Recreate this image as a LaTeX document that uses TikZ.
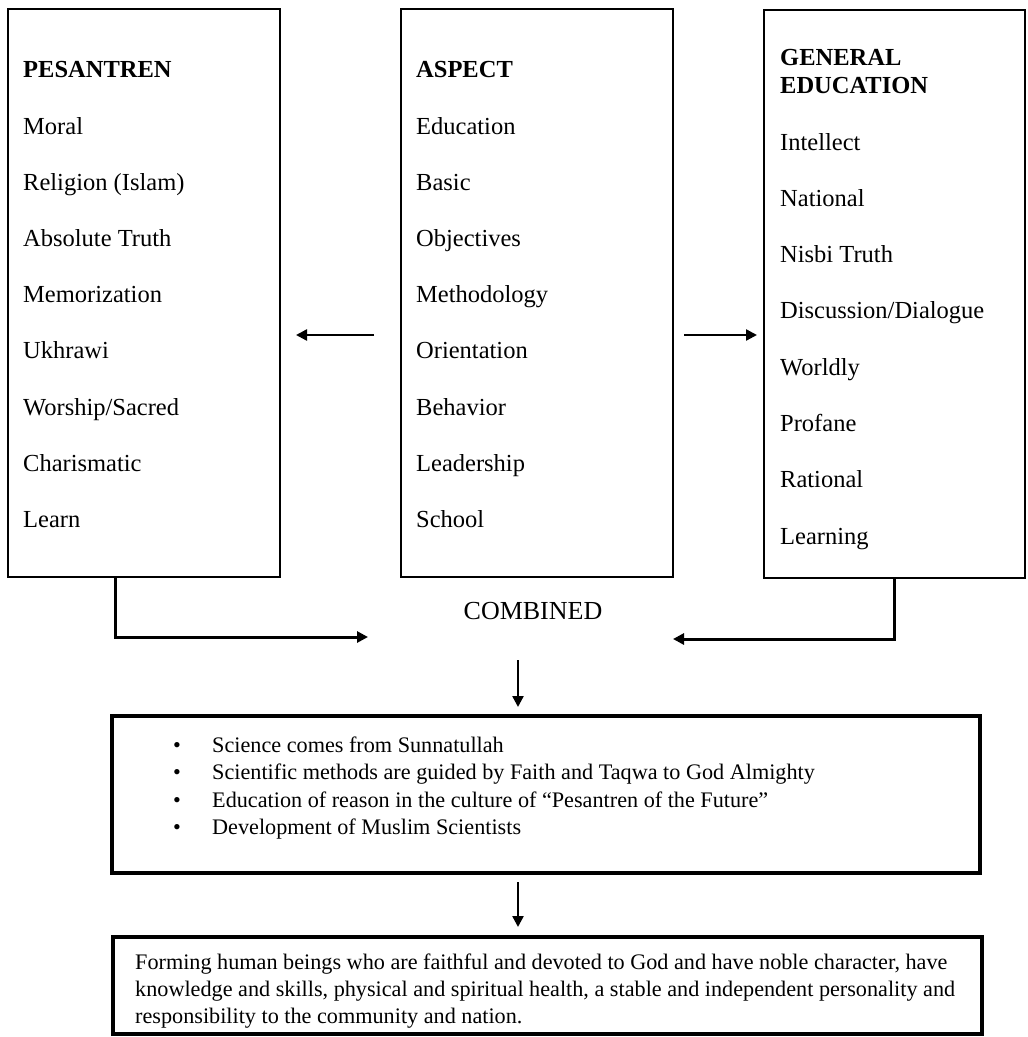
\documentclass[tikz,border=0pt]{standalone}
\usepackage{fontspec}
\setmainfont{Liberation Serif}
\usetikzlibrary{arrows.meta}
\begin{document}
\begin{tikzpicture}[x=1pt,y=-1pt,
  box/.style={draw,line width=1.6pt,inner sep=0pt,outer sep=0pt,anchor=north west},
  thickbox/.style={draw,line width=3.2pt,inner sep=0pt,outer sep=0pt,anchor=north west},
  item/.style={anchor=base west,inner sep=0pt,font=\fontsize{24.5}{29}\selectfont},
  head/.style={anchor=base west,inner sep=0pt,font=\fontsize{24.5}{29}\selectfont\bfseries},
  small/.style={anchor=base west,inner sep=0pt,font=\fontsize{22.2}{27}\selectfont},
  arr/.style={line width=2.4pt,-{Triangle[length=11pt,width=11pt]}},
  conn/.style={line width=3pt,-{Triangle[length=11pt,width=11pt]}}]
\useasboundingbox (0,0) rectangle (1028,1037);
% top boxes
\node[box,minimum width=272,minimum height=568] (pes) at (8,9) {};
\node[box,minimum width=272,minimum height=568] (asp) at (401,9) {};
\node[box,minimum width=261,minimum height=568] (gen) at (764,10) {};
% headers
\node[head] (pesH) at (23,77) {PESANTREN};
\node[head] (aspH) at (416,77) {ASPECT};
\node[head] (genH1) at (780,65) {GENERAL};
\node[head] (genH2) at (780,93) {EDUCATION};
% items
\foreach \t [count=\i] in {Moral,Religion (Islam),Absolute Truth,Memorization,Ukhrawi,Worship/Sacred,Charismatic,Learn}
  \node[item] (p\i) at (23,{134+56.2*(\i-1)}) {\t};
\foreach \t [count=\i] in {Education,Basic,Objectives,Methodology,Orientation,Behavior,Leadership,School}
  \node[item] (a\i) at (416,{134+56.2*(\i-1)}) {\t};
\foreach \t [count=\i] in {Intellect,National,Nisbi Truth,Discussion/Dialogue,Worldly,Profane,Rational,Learning}
  \node[item] (g\i) at (780,{150+56.3*(\i-1)}) {\t};
% side arrows
\coordinate (la1) at (374,335);
\coordinate (la2) at (296,335);
\coordinate (ra1) at (684,335);
\coordinate (ra2) at (757,335);
\draw[arr] (la1) -- (la2);
\draw[arr] (ra1) -- (ra2);
% combined
\node[inner sep=0pt,font=\fontsize{26}{30}\selectfont] (comb) at (533,611) {COMBINED};
\coordinate (cl) at (368,637);
\coordinate (cr) at (673,639);
\draw[conn] (115,0 |- pes.south) |- (cl);
\draw[conn] (894,0 |- gen.south) |- (cr);
% bottom boxes
\node[thickbox,minimum width=868,minimum height=157] (sci) at (112,716) {};
\node[thickbox,minimum width=869,minimum height=97] (goal) at (113,937) {};
\coordinate (d1) at (518,660);
\coordinate (d2) at (518,707);
\coordinate (d3) at (518,882);
\coordinate (d4) at (518,927);
\draw[arr] (d1) -- (d2);
\draw[arr] (d3) -- (d4);
% bullets
\foreach \t [count=\i] in {Science comes from Sunnatullah,Scientific methods are guided by Faith and Taqwa to God Almighty,Education of reason in the culture of “Pesantren of the Future”,Development of Muslim Scientists}{
  \node[small] (bul\i) at (173,{752+27.6*(\i-1)}) {\textbullet};
  \node[small] (s\i) at (212,{752+27.6*(\i-1)}) {\t};
}
% goal text
\node[small] (f1) at (135,969) {Forming human beings who are faithful and devoted to God and have noble character, have};
\node[small] (f2) at (135,996) {knowledge and skills, physical and spiritual health, a stable and independent personality and};
\node[small] (f3) at (135,1023) {responsibility to the community and nation.};
\end{tikzpicture}
\end{document}
